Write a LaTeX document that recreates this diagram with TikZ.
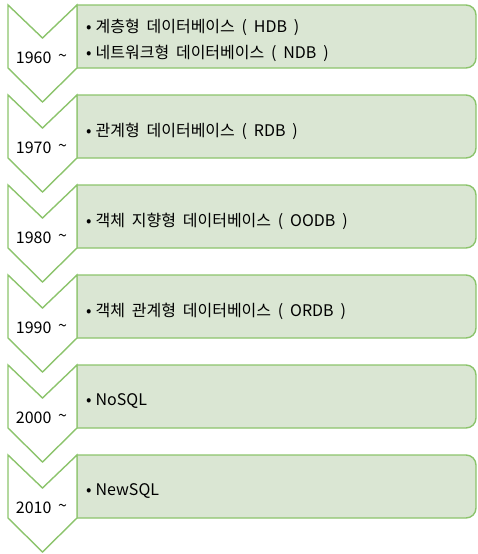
\documentclass[tikz,border=0pt]{standalone}
\usepackage{fontspec}
\setmainfont[WordSpace=1.9]{Noto Sans CJK KR}
\definecolor{gline}{HTML}{8CC46C}
\definecolor{gfill}{HTML}{DAE6D3}
\newcommand{\bul}{•\hspace{4pt}}
\begin{document}
\begin{tikzpicture}[x=1pt,y=-1pt,
  chev/.style={draw=gline,line width=1.4pt,fill=white,line join=miter},
  gbox/.style={draw=gline,line width=1.4pt,fill=gfill},
  yr/.style={font=\fontsize{16}{18}\selectfont,inner sep=0pt,anchor=center},
  item/.style={font=\fontsize{16}{18}\selectfont,inner sep=0pt,anchor=west}]
\useasboundingbox (0,0) rectangle (477,554);
\foreach \i/\yy in {1/1960,2/1970,3/1980,4/1990,5/2000,6/2010}{
  \pgfmathsetmacro{\t}{5+90*(\i-1)}
  \draw[gbox] (77,\t) -- (466,\t) arc[start angle=-90,end angle=0,radius=10]
     -- (476,\t+53) arc[start angle=0,end angle=90,radius=10] -- (77,\t+63) -- cycle;
  \draw[chev] (8,\t) -- (42.5,\t+33) -- (77,\t) -- (77,\t+63) -- (42.5,\t+97) -- (8,\t+63) -- cycle;
  \node[yr] (y\i) at (41.5,\t+53) {\yy\ \raisebox{0.12em}{\~{}}};
}
\node[item] (t1a) at (86,27) {\bul 계층형 데이터베이스 ( HDB )};
\node[item] (t1b) at (86,53) {\bul 네트워크형 데이터베이스 ( NDB )};
\node[item] (t2) at (86,131) {\bul 관계형 데이터베이스 ( RDB )};
\node[item] (t3) at (86,221) {\bul 객체 지향형 데이터베이스 ( OODB )};
\node[item] (t4) at (86,311) {\bul 객체 관계형 데이터베이스 ( ORDB )};
\node[item] (t5) at (86,401) {\bul NoSQL};
\node[item] (t6) at (86,491) {\bul NewSQL};
\end{tikzpicture}
\end{document}
